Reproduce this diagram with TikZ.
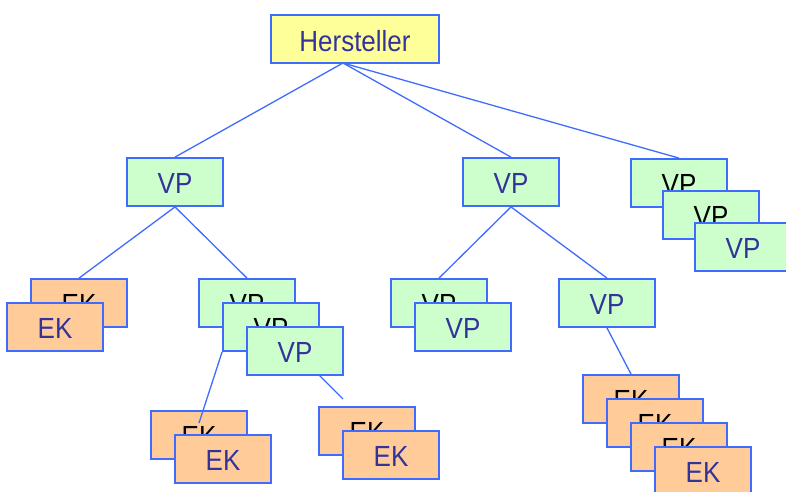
\documentclass[tikz,border=0pt]{standalone}
\usepackage{graphicx}
\usepackage{fontspec}
\setmainfont{Liberation Sans}
\definecolor{bordc}{HTML}{3F6CFF}
\definecolor{txtc}{HTML}{333399}
\definecolor{hfill}{HTML}{FFFF99}
\definecolor{vfill}{HTML}{CCFFCC}
\definecolor{efill}{HTML}{FFCC99}
\newcommand{\boxtxt}[1]{\raisebox{-1.5pt}[\height][0pt]{\scalebox{1}[1.12]{#1}}}
\tikzset{
  box/.style={draw=bordc, line width=1.8pt, minimum width=96pt, minimum height=48pt, inner sep=0pt,
    font=\fontsize{26}{30}\selectfont, text=txtc},
  backbox/.style={box, text=black},
  vpbox/.style={box, fill=vfill},
  vpback/.style={backbox, fill=vfill},
  ekbox/.style={box, fill=efill},
  ekback/.style={backbox, fill=efill},
  link/.style={draw=bordc, line width=1.3pt}
}
\begin{document}
\begin{tikzpicture}[x=1pt,y=-1pt]
\useasboundingbox (0,0) rectangle (786,491);
\clip (0,0) rectangle (786,491);
% top
\node[box, fill=hfill, minimum width=168pt] (H) at (355,39) {\boxtxt{Hersteller}};
\coordinate (apex) at (343,63);
% level 1
\node[vpbox] (v1) at (175,182) {\boxtxt{VP}};
\node[vpbox] (v2) at (511,182) {\boxtxt{VP}};
\node[vpback] (v3a) at (679,183) {\boxtxt{VP}};
\node[vpback] (v3b) at (711,215) {\boxtxt{VP}};
\node[vpbox] (v3c) at (743,247) {\boxtxt{VP}};
% level 2 left
\node[ekback] (e1a) at (79,303) {\boxtxt{EK}};
\node[ekbox] (e1b) at (55,327) {\boxtxt{EK}};
\node[vpback] (w1) at (247,303) {\boxtxt{VP}};
\node[vpback] (w2) at (271,327) {\boxtxt{VP}};
\node[vpbox] (w3) at (295,351) {\boxtxt{VP}};
% level 3 left
\node[ekback] (f1a) at (199,435) {\boxtxt{EK}};
\node[ekbox] (f1b) at (223,459) {\boxtxt{EK}};
\node[ekback] (g1a) at (367,431) {\boxtxt{EK}};
\node[ekbox] (g1b) at (391,455) {\boxtxt{EK}};
% level 2 middle
\node[vpback] (u1a) at (439,303) {\boxtxt{VP}};
\node[vpbox] (u1b) at (463,327) {\boxtxt{VP}};
\node[vpbox] (u2) at (607,303) {\boxtxt{VP}};
% level 3 right
\node[ekback] (k1) at (631,399) {\boxtxt{EK}};
\node[ekback] (k2) at (655,423) {\boxtxt{EK}};
\node[ekback] (k3) at (679,447) {\boxtxt{EK}};
\node[ekbox] (k4) at (703,471) {\boxtxt{EK}};
% connectors
\coordinate (w2end) at (199,423);
\coordinate (w3start) at (319,375);
\coordinate (w3end) at (343,399);
\draw[link] (apex) -- (v1.north);
\draw[link] (apex) -- (v2.north);
\draw[link] (apex) -- (v3a.north);
\draw[link] (v1.south) -- (e1a.north);
\draw[link] (v1.south) -- (w1.north);
\draw[link] (w2.south west) -- (w2end);
\draw[link] (w3start) -- (w3end);
\draw[link] (v2.south) -- (u1a.north);
\draw[link] (v2.south) -- (u2.north);
\draw[link] (u2.south) -- (k1.north);
\end{tikzpicture}
\end{document}
